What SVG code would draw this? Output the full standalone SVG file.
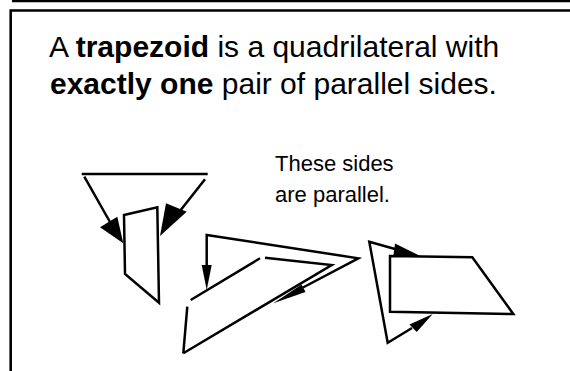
<svg xmlns="http://www.w3.org/2000/svg" width="570" height="371" viewBox="0 0 570 371">
<style>
  .ln { fill: none; stroke: #000; stroke-width: 2.5; stroke-linejoin: miter; stroke-linecap: butt; }
  .hd { fill: #000; stroke: none; }
  .title { font-family: "Liberation Sans", Arial, sans-serif; font-size: 30px; fill: #000; }
  .note { font-family: "Liberation Sans", Arial, sans-serif; font-size: 22px; fill: #000; }
</style>
<rect width="570" height="371" fill="#fff"/>
<g id="frame">
  <line x1="12" y1="1" x2="570" y2="1" stroke="#000" stroke-width="2.5"/>
  <polyline points="570,10.5 10.7,10.5 10.7,371" fill="none" stroke="#000" stroke-width="2.6"/>
</g>
<g id="title">
  <text class="title" x="49" y="57">A <tspan font-weight="bold">trapezoid</tspan> is a quadrilateral with</text>
  <text class="title" x="50" y="94"><tspan font-weight="bold">exactly one</tspan> pair of parallel sides.</text>
</g>
<g id="label">
  <text class="note" x="275" y="171">These sides</text>
  <text class="note" x="275" y="202">are parallel.</text>
</g>
<g id="trapezoid1">
  <polygon class="ln" points="124,215 157.3,207.3 159,302.7 125,274"/>
</g>
<g id="trapezoid2">
  <line class="ln" x1="183.3" y1="353.3" x2="187.3" y2="306.7"/>
  <line class="ln" x1="190.7" y1="300" x2="260" y2="258.3"/>
  <polyline class="ln" points="265,257.7 331.7,265 183.3,353.3"/>
</g>
<g id="trapezoid3">
  <polygon class="ln" points="390,256 472.3,257.3 513.3,314 390,311.7"/>
</g>
<g id="connectors">
  <!-- shape 1 -->
  <line class="ln" x1="81.7" y1="174" x2="207.7" y2="174"/>
  <line class="ln" x1="84.3" y1="176.7" x2="110" y2="222"/>
  <polygon class="hd" points="100,227.3 117.3,216.7 123.3,243.3"/>
  <line class="ln" x1="205" y1="179.3" x2="176" y2="216"/>
  <polygon class="hd" points="166,203.3 186.7,211.7 160,236"/>
  <!-- shape 2 -->
  <polyline class="ln" points="206.7,268 206.7,235 358.3,258.3 303,287.5"/>
  <polygon class="hd" points="201.7,265 211.7,265 206.7,290"/>
  <polygon class="hd" points="301.7,284.5 305.5,292 273.3,303.3"/>
  <!-- shape 3 -->
  <polyline class="ln" points="395,249 369.3,241.7 387.7,342.7 412,328"/>
  <polygon class="hd" points="395,243.5 393.3,256.5 421.7,256.7"/>
  <polygon class="hd" points="409.5,324.5 416.7,332 432.7,314"/>
</g>
</svg>
